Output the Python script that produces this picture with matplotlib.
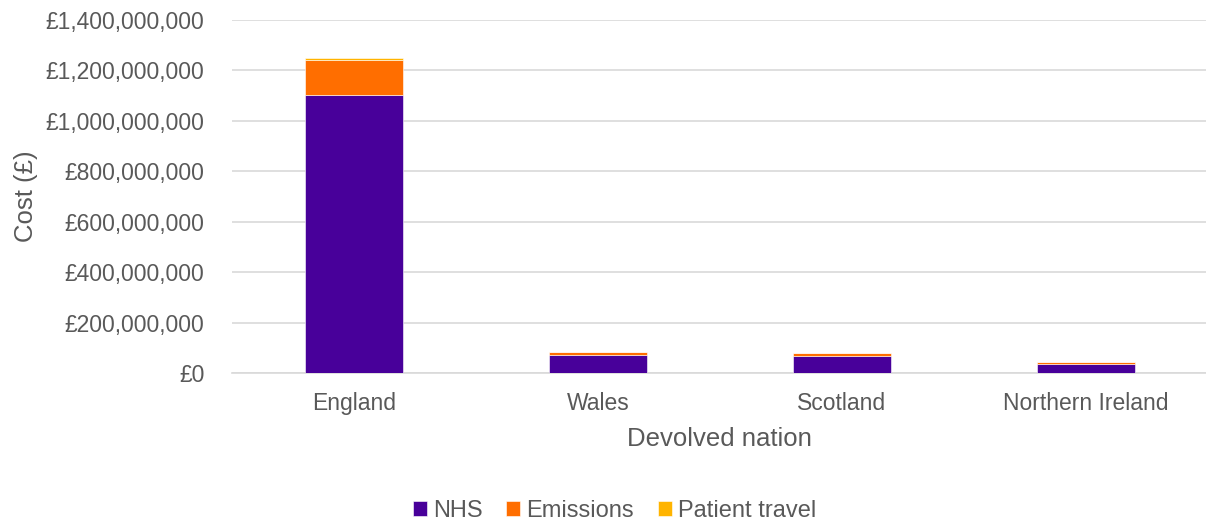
import matplotlib.pyplot as plt
from matplotlib.ticker import FuncFormatter

plt.rcParams['font.family'] = ['Liberation Sans', 'DejaVu Sans']

nations = ['England', 'Wales', 'Scotland', 'Northern Ireland']
nhs = [1104e6, 71.5e6, 67.5e6, 35.5e6]
emissions = [136e6, 10e6, 11e6, 7e6]
patient_travel = [9e6, 1.2e6, 1.2e6, 1.0e6]

purple = '#48009A'
orange = '#FF6E00'
yellow = '#FFB400'
grey = '#595959'

fig = plt.figure(figsize=(12.06, 5.22), dpi=100)
ax = fig.add_axes([0.1924, 0.2854, 0.809, 0.6763])

x = range(len(nations))
w = 0.4
ax.bar(x, nhs, w, color=purple, label='NHS', edgecolor='#ffffff', linewidth=0.4, zorder=3)
base = [a for a in nhs]
ax.bar(x, emissions, w, bottom=base, color=orange, label='Emissions',
       edgecolor='#ffffff', linewidth=0.4, zorder=3)
base = [a + b for a, b in zip(nhs, emissions)]
ax.bar(x, patient_travel, w, bottom=base, color=yellow, label='Patient travel',
       edgecolor='#ffffff', linewidth=0.4, zorder=3)

ax.set_ylim(0, 1.4e9)
ax.set_yticks([i * 200e6 for i in range(8)])
ax.yaxis.set_major_formatter(FuncFormatter(lambda v, p: '£{:,.0f}'.format(v)))
ax.set_xlim(-0.5, len(nations) - 0.5)
ax.set_xticks(list(x))
ax.set_xticklabels(nations)

ax.grid(axis='y', color='#d9d9d9', linewidth=1.2, zorder=0)
for s in ['top', 'right', 'left']:
    ax.spines[s].set_visible(False)
ax.spines['bottom'].set_color('#d9d9d9')
ax.spines['bottom'].set_linewidth(1.2)
ax.tick_params(axis='both', length=0, labelsize=16.5, colors=grey)
ax.tick_params(axis='y', pad=20)
ax.tick_params(axis='x', pad=14)

ax.set_ylabel('Cost (£)', fontsize=18.5, color=grey, labelpad=5)
ax.set_xlabel('Devolved nation', fontsize=18.5, color=grey, labelpad=8)

ax.legend(loc='center', bbox_to_anchor=(0.392, -0.39), ncol=3, frameon=False,
          fontsize=17, labelcolor=grey, handlelength=0.6, handleheight=0.6,
          handletextpad=0.25, columnspacing=1.0)

fig.savefig('out.png', dpi=100)
